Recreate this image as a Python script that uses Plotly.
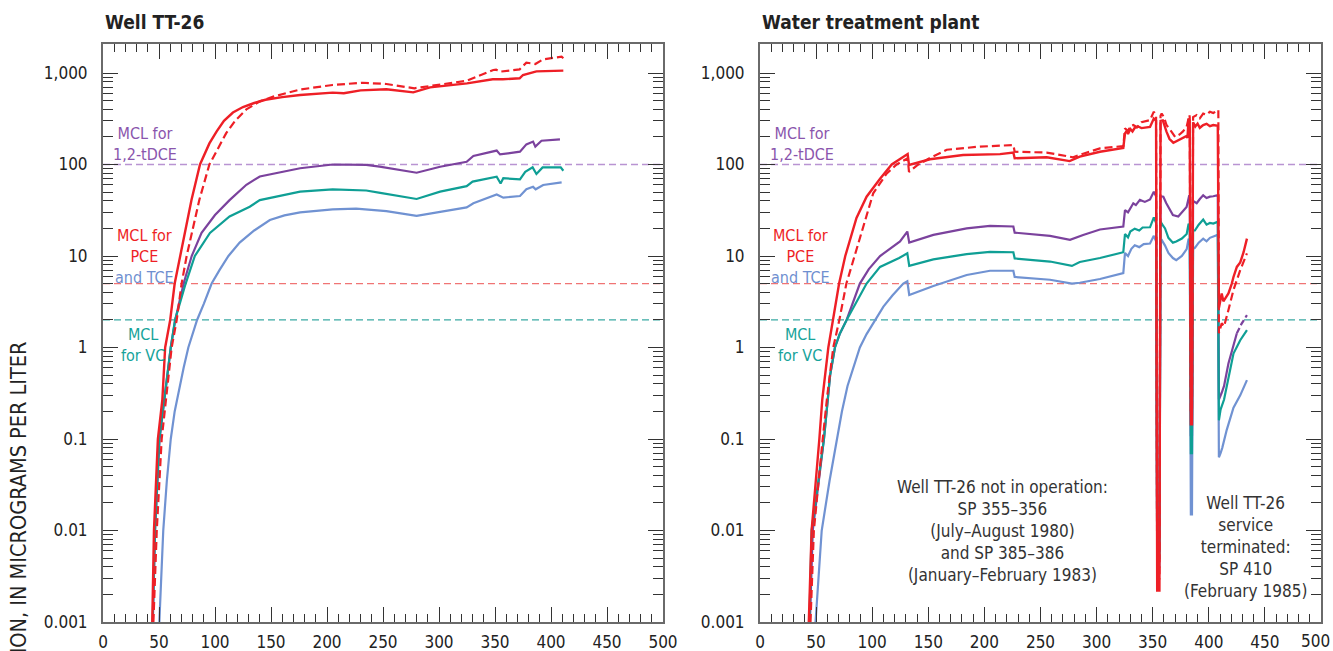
import math
import plotly.graph_objects as go

# ---------------- data (stress period vs concentration, ug/L) ----------------
# Left panel: Well TT-26
L_pce_x = [44, 45.5, 49, 53, 55.5, 60, 64, 69, 73, 79, 86.6, 95, 101.5, 108, 116, 125, 135, 145, 160, 176, 205, 215, 230, 253, 277, 292, 325, 348, 357, 372, 375, 387, 411]
L_pce_y = [0.001, 0.01, 0.1, 0.27, 1.0, 2.0, 5.0, 10, 18.6, 41, 100, 170, 230, 300, 370, 425, 470, 510, 545, 575, 610, 600, 646, 664, 615, 697, 771, 853, 853, 875, 951, 1043, 1062]

L_pce2_x = [45, 48, 52.4, 56.3, 61.3, 65.8, 70.2, 74.7, 86, 95, 102, 110, 118, 128, 140, 152, 176, 205, 232, 253, 278, 292, 325, 348.5, 351, 354.5, 372, 378, 386, 393, 409.5, 411]
L_pce2_y = [0.001, 0.01, 0.1, 0.27, 1, 2, 5, 10, 41, 100, 144, 220, 300, 400, 490, 552, 660, 740, 783, 758, 681, 721, 824, 1079, 1090, 1034, 1097, 1297, 1254, 1411, 1507, 1450]

L_dce_x = [44.5, 46.5, 50.5, 54.8, 60.5, 64.5, 72, 79.2, 88, 100, 113, 128, 140, 176, 205, 235, 247, 280, 301, 324.7, 330.7, 351.5, 354.5, 372.3, 378, 384, 386, 391.5, 408]
L_dce_y = [0.001, 0.01, 0.1, 0.27, 1, 2, 5, 10, 17.9, 28, 40.8, 60, 74, 91, 100, 99, 94.6, 81.3, 94.6, 107, 124, 142, 129, 138, 166, 178, 157, 182, 188]

L_vc_x = [44.3, 46.4, 50.3, 54.5, 60.5, 64.3, 73.8, 82, 95.5, 113, 131, 140, 176, 205, 235, 247.5, 280, 301, 324.7, 330, 351.5, 355, 357.4, 372.3, 377, 383.6, 387, 392.5, 408.7, 411]
L_vc_y = [0.001, 0.01, 0.1, 0.27, 1, 2, 5, 10, 17.9, 27, 34.6, 40.8, 50.5, 53.6, 52, 49, 42, 50.5, 58, 65, 73.6, 62, 70.8, 68.9, 83, 93, 78.7, 93, 93, 85.5]

L_tce_x = [50.3, 52, 53.8, 57, 60.5, 64, 68, 72, 76.2, 80, 84, 90, 97, 104, 112, 122, 135, 149, 162, 176, 205, 226, 253, 280, 301, 324.7, 330.7, 351.5, 357.4, 372.3, 378, 384, 386.3, 393, 409.5]
L_tce_y = [0.001, 0.003, 0.01, 0.035, 0.1, 0.2, 0.35, 0.6, 1, 1.4, 2, 3, 5, 7, 10, 14, 19, 24.7, 27.8, 30, 32.3, 33, 31, 27.5, 30.5, 34, 37.7, 47, 43.4, 45.3, 53.6, 57, 53.6, 59.7, 63.8]

# Right panel: Water treatment plant
R_pce_x = [43.5, 46, 52.9, 55.5, 60.9, 65, 70.5, 76, 86, 95, 107, 117.4, 125, 131.6, 132.8, 140, 151.5, 181, 213.9, 225.8, 227, 255.5, 276, 285, 303, 323.8, 325.3, 327, 328, 330, 332, 334, 337, 340, 344, 347.6, 351, 353, 354, 356, 357, 359, 362.3, 365, 368.4, 374.3, 380.3, 381, 382, 383, 384, 385, 386, 388, 390, 392, 395, 398, 401, 404, 407.6, 408, 409, 411.5, 413, 417.5, 420.5, 422, 425, 428, 431, 434]
R_pce_y = [0.001, 0.01, 0.1, 0.27, 1, 2, 5, 10, 26, 44.5, 70, 100, 116, 130, 99, 105, 114, 127, 130, 135, 117, 120, 109, 122, 138, 152, 219, 235, 215, 245, 230, 252, 260, 250, 255, 257, 318, 300, 0.0022, 0.0022, 300, 304, 229, 190, 173, 190, 205, 195, 318, 300, 0.145, 0.145, 290, 260, 280, 252, 270, 278, 262, 270, 270, 265, 2.7, 3.9, 3.2, 3.9, 5.0, 5.9, 7.6, 8.5, 11, 15.5]

R_pce2_x = [45, 48, 55.9, 60, 65.3, 70.7, 77, 84.5, 100.9, 113, 121.8, 131.6, 132.8, 140, 151.5, 166.4, 196, 225.8, 227, 255.5, 279, 288, 303, 323.8, 325.3, 328, 330, 332.7, 336, 340, 347.6, 351, 353, 354, 356, 357, 358, 360, 362.3, 366.7, 370, 374, 377, 380.2, 382.6, 383, 384, 385, 386, 389.2, 392, 395, 398, 401, 404, 408.5, 409, 411.5, 413.6, 417.5, 422, 428, 434]
R_pce2_y = [0.001, 0.01, 0.1, 0.3, 1, 2, 5, 10, 48.4, 80, 100, 117, 83, 98, 118, 145, 157, 163, 138, 135, 120, 131, 150, 159, 248, 232, 262, 270, 255, 290, 306, 378, 340, 0.003, 0.003, 340, 360, 330, 270, 229, 200, 213, 230, 257, 347, 330, 0.2, 0.2, 330, 347, 320, 360, 350, 378, 365, 394, 1.43, 1.84, 1.7, 2.57, 4.25, 7, 10.7]

R_dce_x = [44.5, 47, 57, 60, 62.5, 66.8, 71, 77.2, 83, 89, 97, 107, 124.8, 131.3, 133, 154.5, 184.2, 205, 225.8, 227, 258.5, 276.3, 288, 303, 323.8, 325.3, 328, 332.7, 335, 338.6, 343, 347.6, 351, 353, 354, 356, 357, 359.5, 362, 365.4, 368, 372.8, 376, 380.2, 382.6, 383, 384, 385, 386, 389.2, 392, 395, 398, 401, 404, 407, 408, 409, 411.5, 413.6, 417.5, 422, 425]
R_dce_y = [0.001, 0.01, 0.1, 0.27, 0.5, 1, 1.4, 2, 3.2, 5, 7.2, 10, 14.4, 18.5, 14, 17, 20, 21.3, 21, 18, 16.6, 15, 17, 19.5, 21, 31.8, 30, 37.7, 36, 41, 39, 41.5, 50.5, 45, 0.006, 0.006, 45, 44.5, 38, 31.8, 28, 27, 30, 34.4, 46, 44, 0.11, 0.11, 40, 37.7, 42, 46, 43, 44.5, 45, 46, 45, 0.27, 0.32, 0.38, 0.67, 1.1, 1.43]
R_dce_tail_x = [425, 429, 434]
R_dce_tail_y = [1.43, 1.8, 2.26]

R_vc_x = [44, 46, 57, 60, 62.5, 66.8, 71, 77.2, 85, 95, 107, 124, 131.3, 133, 154.5, 184.2, 205, 225.8, 227, 258.5, 278, 285, 303, 323.8, 325.3, 328, 330, 334, 338, 341, 347.6, 351, 353, 354, 356, 357, 358, 361, 364, 368, 371, 376, 380.3, 382, 383, 384, 385, 386, 387.6, 391, 395, 398, 401, 404, 407.6, 408, 409, 410.5, 413.6, 417.5, 422, 428, 434]
R_vc_y = [0.001, 0.01, 0.1, 0.27, 0.5, 1, 1.4, 2, 3, 5, 7.6, 9.5, 10.7, 7.8, 9.2, 10.5, 11.1, 11, 9.4, 8.7, 7.8, 8.6, 9.5, 11, 17.4, 16, 18.5, 19.9, 19, 20.5, 20.6, 26.4, 23, 0.005, 0.005, 24, 22.6, 20, 15.8, 14, 14.4, 15.5, 17.4, 22.6, 21, 0.07, 0.07, 19, 19, 22, 25, 22, 23, 22.6, 23.6, 23, 0.16, 0.21, 0.27, 0.48, 0.86, 1.2, 1.55]

R_tce_x = [49.5, 52, 55, 62, 68.3, 73, 78, 83, 89, 95, 102.5, 110, 118, 127.7, 131.3, 133, 154.5, 184.2, 205, 225.8, 227, 258.5, 278, 285, 303, 323.8, 325.3, 328, 331, 334, 338, 342, 347.6, 351, 353, 354, 356, 357, 358, 361, 364, 368, 371, 376, 380.3, 382, 383, 384, 385, 386, 387.6, 391, 395, 398, 401, 404, 407.6, 408, 409, 410.5, 412, 416, 422, 428, 434]
R_tce_y = [0.001, 0.003, 0.01, 0.035, 0.1, 0.2, 0.38, 0.6, 1, 1.4, 2, 2.8, 3.7, 5, 5.3, 3.75, 4.7, 6.2, 6.9, 6.9, 5.9, 5.5, 5.0, 5.1, 5.6, 6.5, 10.8, 10, 12, 13.1, 12.5, 13.5, 13.7, 16.6, 14.5, 0.004, 0.004, 15, 15, 13, 10.8, 9.5, 9, 10, 11.9, 15.5, 14.5, 0.015, 0.015, 12, 12.3, 14, 15.5, 14.5, 15.8, 16.3, 17, 16.5, 0.063, 0.07, 0.08, 0.126, 0.22, 0.30, 0.44]

# Maximum contaminant levels (ug/L)
MCL_names = ["1,2-tDCE", "PCE and TCE", "VC"]
MCL_values = [100, 5, 2]

X_RANGE = [0, 500]
X_TICKVALS = [0, 50, 100, 150, 200, 250, 300, 350, 400, 450, 500]
X_TICKTEXT = ["0", "50", "100", "150", "200", "250", "300", "350", "400", "450", "500"]
Y_TICKVALS = [0.001, 0.01, 0.1, 1, 10, 100, 1000]
Y_TICKTEXT = ["0.001", "0.01", "0.1", "1", "10", "100", "1,000"]

# ---------------- styles ----------------
FONT = "Liberation Sans Narrow, Arial Narrow, DejaVu Sans Condensed, Roboto, sans-serif"
RED = "#ee1f26"
PURPLE = "#7b429d"
TEAL = "#0f9f95"
BLUE = "#7092d2"
MCL_COLORS = ["#b994d2", "#f07474", "#3aa9a3"]
TXT_PURPLE = "#8a55ad"
TXT_RED = "#ee1f26"
TXT_BLUE = "#6f8fd0"
TXT_TEAL = "#16a39a"
AXIS_LINE = "#6a6a6a"
TICK = "#333333"

fig = go.Figure()

def add_series(x, y, color, xa, ya, dash="solid", width=2.2):
    fig.add_trace(go.Scatter(x=x, y=y, mode="lines", xaxis=xa, yaxis=ya,
                             line=dict(color=color, width=width, dash=dash),
                             hoverinfo="skip", showlegend=False))

for xa, ya in (("x", "y"), ("x2", "y2")):
    for v, c in zip(MCL_values, MCL_COLORS):
        add_series(X_RANGE, [v, v], c, xa, ya, dash="7px,4px", width=1.3)

# left panel (draw order: TCE, DCE, VC, PCE dashed, PCE solid)
add_series(L_tce_x, L_tce_y, BLUE, "x", "y")
add_series(L_dce_x, L_dce_y, PURPLE, "x", "y")
add_series(L_vc_x, L_vc_y, TEAL, "x", "y")
add_series(L_pce2_x, L_pce2_y, RED, "x", "y", dash="8px,4px")
add_series(L_pce_x, L_pce_y, RED, "x", "y", width=2.4)

# right panel
add_series(R_tce_x, R_tce_y, BLUE, "x2", "y2")
add_series(R_dce_x, R_dce_y, PURPLE, "x2", "y2")
add_series(R_dce_tail_x, R_dce_tail_y, PURPLE, "x2", "y2", dash="6px,3px")
add_series(R_vc_x, R_vc_y, TEAL, "x2", "y2")
add_series(R_pce2_x, R_pce2_y, RED, "x2", "y2", dash="8px,4px")
add_series(R_pce_x, R_pce_y, RED, "x2", "y2", width=2.4)

minor_y = [m * 10 ** e for e in range(-3, 3) for m in range(2, 10)]

def xaxis_style(ticktext):
    return dict(range=X_RANGE, tickmode="array", tickvals=X_TICKVALS, ticktext=ticktext,
                ticks="inside", ticklen=15, tickwidth=1.4, tickcolor=TICK, showline=True,
                linecolor=AXIS_LINE, linewidth=2, mirror="ticks", showgrid=False,
                zeroline=False, automargin=False, ticklabeloverflow="allow",
                tickfont=dict(family=FONT, size=17, color="#222"),
                minor=dict(tickmode="linear", dtick=10, tick0=0, ticks="inside", ticklen=8,
                           tickwidth=1.4, tickcolor=TICK, showgrid=False),
                ticklabelstandoff=4)

yaxis_common = dict(type="log", range=[-3, 3.317], tickmode="array", tickvals=Y_TICKVALS,
                    ticktext=Y_TICKTEXT, ticks="inside", ticklen=15, tickwidth=1.4,
                    tickcolor=TICK, showline=True, linecolor=AXIS_LINE, linewidth=2,
                    mirror="ticks", showgrid=False, zeroline=False, automargin=False,
                    ticklabeloverflow="allow",
                    tickfont=dict(family=FONT, size=17, color="#222"),
                    minor=dict(tickmode="array", tickvals=minor_y, ticks="inside", ticklen=10,
                               tickwidth=1.4, tickcolor=TICK, showgrid=False),
                    ticklabelstandoff=10)

W, H = 1333, 651
ydom = [1 - 622 / H, 1 - 44 / H]
right_ticktext = X_TICKTEXT[:-1] + [""]   # last label placed by annotation so it stays on the page
fig.update_layout(
    template="none",
    width=W, height=H, margin=dict(l=0, r=0, t=0, b=0, pad=0),
    paper_bgcolor="white", plot_bgcolor="white", showlegend=False,
    xaxis=dict(domain=[103 / W, 663 / W], anchor="y", **xaxis_style(X_TICKTEXT)),
    yaxis=dict(domain=ydom, anchor="x", **yaxis_common),
    xaxis2=dict(domain=[760 / W, 1321 / W], anchor="y2", **xaxis_style(right_ticktext)),
    yaxis2=dict(domain=ydom, anchor="x2", **yaxis_common),
    font=dict(family=FONT),
)

ann = []
def txt(text, x, ly, color, xref, yref, size=16, **kw):
    ann.append(dict(text=text, x=x, y=ly, xref=xref, yref=yref, showarrow=False,
                    font=dict(family=FONT, size=size, color=color), **kw))

for xr, yr, xs in (("x", "y", 37.5), ("x2", "y2", 37.0)):
    txt("MCL for<br>1,2-tDCE", xs, 2.224, TXT_PURPLE, xr, yr)
    txt("MCL for<br>PCE<br><span style='color:%s'>and TCE</span>" % TXT_BLUE,
        xs - 0.5, 1.0, TXT_RED, xr, yr)
    txt("MCL<br>for VC", xs - 1.5, 0.027, TXT_TEAL, xr, yr)

# last x tick label of the right panel
ann.append(dict(text=X_TICKTEXT[-1], x=X_TICKVALS[-1], xref="x2", y=1 - 641 / H, yref="paper",
                xanchor="right", yanchor="middle", xshift=11, showarrow=False,
                font=dict(family=FONT, size=17, color="#222")))

# titles
ann.append(dict(text="<b>Well TT-26</b>", x=103 / W, y=1 - 22 / H, xref="paper", yref="paper",
                xanchor="left", yanchor="middle", showarrow=False,
                font=dict(family=FONT, size=19, color="#222")))
ann.append(dict(text="<b>Water treatment plant</b>", x=760 / W, y=1 - 22 / H, xref="paper",
                yref="paper", xanchor="left", yanchor="middle", showarrow=False,
                font=dict(family=FONT, size=19, color="#222")))

# y-axis title (extends below the visible page, as in the original)
ann.append(dict(text="CONCENTRATION, IN MICROGRAMS PER LITER", x=18 / W, y=1 - 340 / H,
                xref="paper", yref="paper", xanchor="center", yanchor="top", textangle=-90,
                showarrow=False, font=dict(family=FONT, size=21.5, color="#222")))

# callouts
txt("Well TT-26 not in operation:<br>SP 355–356<br>(July–August 1980)<br>and SP 385–386<br>(January–February 1983)",
    215.7, -2.005, "#333", "x2", "y2", size=17)
txt("Well TT-26<br>service<br>terminated:<br>SP 410<br>(February 1985)",
    432.3, -2.18, "#333", "x2", "y2", size=17)
fig.update_layout(annotations=ann)

# leader lines (x in stress period, y in log10 concentration)
leaders = [((311, 0.0324), (353, 0.0458)), ((311, 0.0324), (381.5, 0.2355)),
           ((414.4, 0.0277), (410, 0.0547))]
for (x0, c0), (x1, c1) in leaders:
    fig.add_shape(type="line", xref="x2", yref="y2", x0=x0, y0=math.log10(c0),
                  x1=x1, y1=math.log10(c1), line=dict(color="#333", width=1))

fig.write_html("out.html")
